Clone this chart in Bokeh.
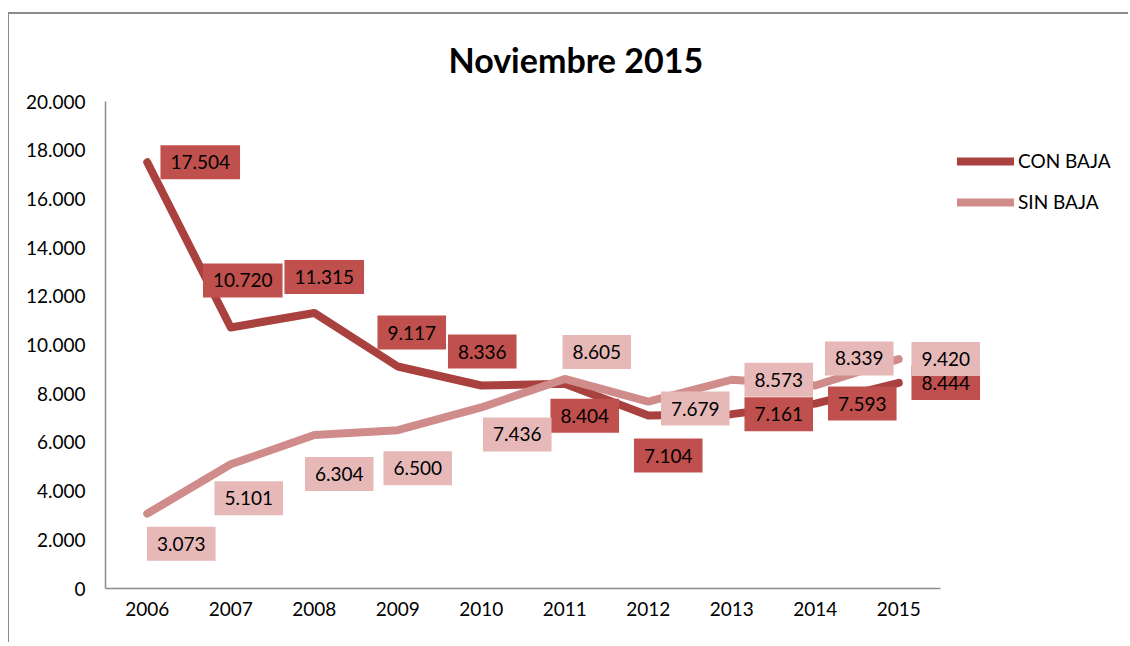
from bokeh.plotting import figure
from bokeh.models import Range1d, FixedTicker, Label, Legend, LegendItem
from bokeh.embed import file_html
from bokeh.resources import INLINE

# ---- data ----
years = [2006, 2007, 2008, 2009, 2010, 2011, 2012, 2013, 2014, 2015]
con_baja = [17504, 10720, 11315, 9117, 8336, 8404, 7104, 7161, 7593, 8444]
sin_baja = [3073, 5101, 6304, 6500, 7436, 8605, 7679, 8573, 8339, 9420]
y_ticks = [0, 2000, 4000, 6000, 8000, 10000, 12000, 14000, 16000, 18000, 20000]
title_text = "Noviembre 2015"
series_names = ["CON BAJA", "SIN BAJA"]

# label placement (screen px offsets from each point)
con_dx = [53, 12, 10, 14, 1, 20, 20, 47, 47, 47]
con_dy = [0, 47, 36, 34, 34, -32, -40, 0, 0, 0]
sin_dx = [34, 18, 25, 20, 36, 32, 47, 47, 44, 47]
sin_dy = [-30, -34, -39, -38, -27, 27, -7, 0, 27, 0]

FONT = "Lato"
FS = "19px"
CON_LINE = "#A9413F"
SIN_LINE = "#D08C8B"
CON_BOX = "#C0504D"
SIN_BOX = "#E6B9B8"

# frame geometry: category band width 83.5 px, frame extends to hold legend
band_px = 83.5
frame_w = 1010
x_start = years[0] - 0.5
x_end = x_start + frame_w / band_px


def fmt(v):
    return f"{v:,}".replace(",", ".")


p = figure(width=1120, height=630, output_backend="svg", toolbar_location=None,
           x_range=Range1d(x_start, x_end), y_range=Range1d(0, 20000),
           min_border_left=96, min_border_right=1120 - 96 - frame_w,
           min_border_top=87, min_border_bottom=56)
p.styles = {"margin-top": "12px", "margin-left": "8px",
            "border-top": "2px solid #8c8c8c",
            "border-left": "1px solid #8c8c8c"}
p.outline_line_color = None
p.background_fill_color = "white"
p.border_fill_color = "white"
p.xgrid.visible = False
p.ygrid.visible = False

p.title.text = title_text
p.title.align = "left"
p.title.offset = 343
p.title.text_font = FONT
p.title.text_font_size = "34px"
p.title.text_font_style = "bold"
p.title.text_color = "black"
p.title.standoff = 43

for ax in (p.xaxis[0], p.yaxis[0]):
    ax.axis_line_color = "#8c8c8c"
    ax.axis_line_width = 1.5
    ax.major_tick_line_color = None
    ax.minor_tick_line_color = None
    ax.major_tick_out = 0
    ax.major_tick_in = 0
    ax.major_label_text_font = FONT
    ax.major_label_text_font_size = FS
    ax.major_label_text_color = "#000000"

p.xaxis.bounds = (x_start, years[-1] + 0.5)
p.xaxis.ticker = FixedTicker(ticks=years)
p.xaxis.major_label_overrides = {y: str(y) for y in years}
p.xaxis.major_label_standoff = 13
p.yaxis.ticker = FixedTicker(ticks=y_ticks)
p.yaxis.major_label_overrides = {t: fmt(t) for t in y_ticks}
p.yaxis.major_label_standoff = 20

r_con = p.line(years, con_baja, line_color=CON_LINE, line_width=8,
               line_cap="round", line_join="round")
r_sin = p.line(years, sin_baja, line_color=SIN_LINE, line_width=8,
               line_cap="round", line_join="round")

pad = dict(left=10, right=10, top=10, bottom=10)
for x, v, dx, dy in zip(years, con_baja, con_dx, con_dy):
    p.add_layout(Label(x=x, y=v, x_offset=dx, y_offset=dy, text=fmt(v),
                       text_align="center", text_baseline="middle",
                       text_font=FONT, text_font_size=FS, text_color="black",
                       background_fill_color=CON_BOX, padding=pad))
for x, v, dx, dy in zip(years, sin_baja, sin_dx, sin_dy):
    p.add_layout(Label(x=x, y=v, x_offset=dx, y_offset=dy, text=fmt(v),
                       text_align="center", text_baseline="middle",
                       text_font=FONT, text_font_size=FS, text_color="black",
                       background_fill_color=SIN_BOX, padding=pad))

legend = Legend(items=[LegendItem(label=series_names[0], renderers=[r_con]),
                       LegendItem(label=series_names[1], renderers=[r_sin])],
                location=(852, 375), padding=0, margin=0, spacing=18,
                glyph_width=57, glyph_height=20, label_height=20,
                label_standoff=4, border_line_color=None,
                background_fill_alpha=0, label_text_font=FONT,
                label_text_font_size=FS, label_text_color="black")
p.add_layout(legend, "center")

open("out.html", "w").write(file_html(p, INLINE))
